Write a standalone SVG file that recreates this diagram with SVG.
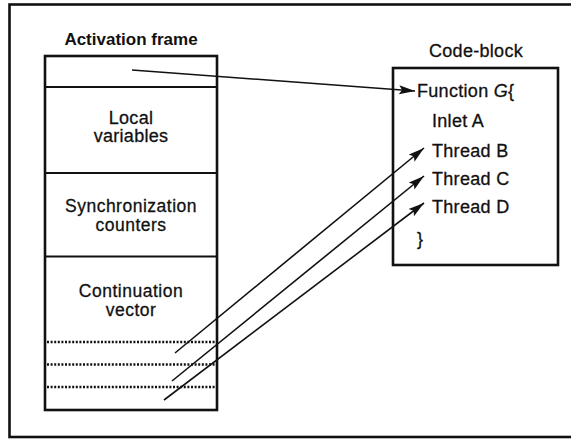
<svg xmlns="http://www.w3.org/2000/svg" width="571" height="439" viewBox="0 0 571 439">
<style>
  .t { font-family: "Liberation Sans", Arial, sans-serif; font-size: 18px; letter-spacing: 0.3px; fill: #111; stroke: #111; stroke-width: 0.3; }
  .c { text-anchor: middle; }
  .m { font-size: 17.5px; letter-spacing: 0.5px; }
  .title { font-weight: bold; font-size: 17px; letter-spacing: 0; stroke-width: 0; }
  .box { fill: #fff; stroke: #111; stroke-width: 2.6; }
  .div { stroke: #111; stroke-width: 2.2; }
  .dot { stroke: #111; stroke-width: 2.4; stroke-dasharray: 2 1.6; }
  .arr { stroke: #111; stroke-width: 1.6; fill: none; marker-end: url(#ah); }
</style>
<defs>
  <marker id="ah" markerUnits="userSpaceOnUse" markerWidth="18" markerHeight="11" refX="16" refY="5.5" orient="auto">
    <path d="M0,1 L16,5.5 L0,10 L3,5.5 Z" fill="#111"/>
  </marker>
</defs>
<rect x="0" y="0" width="571" height="439" fill="#fff"/>
<rect x="9.5" y="4.5" width="570" height="432.5" fill="none" stroke="#111" stroke-width="2.6"/>

<g id="activation-frame">
  <text class="t title c" x="131" y="45">Activation frame</text>
  <rect class="box" x="45" y="56" width="172" height="354"/>
  <line class="div" x1="45" y1="87" x2="217" y2="87"/>
  <line class="div" x1="45" y1="173" x2="217" y2="173"/>
  <line class="div" x1="45" y1="256.5" x2="217" y2="256.5"/>
  <text class="t c"><tspan x="131" y="124">Local</tspan><tspan x="131" y="142">variables</tspan></text>
  <text class="t m c"><tspan x="131" y="211.5">Synchronization</tspan><tspan x="131" y="230.5">counters</tspan></text>
  <text class="t m c"><tspan x="131" y="296.5">Continuation</tspan><tspan x="131" y="315.5">vector</tspan></text>
  <line class="dot" x1="47" y1="342" x2="216" y2="342"/>
  <line class="dot" x1="47" y1="364.5" x2="216" y2="364.5"/>
  <line class="dot" x1="47" y1="387" x2="216" y2="387"/>
</g>

<g id="code-block">
  <text class="t c" x="476" y="57">Code-block</text>
  <rect class="box" x="393" y="68" width="165" height="197"/>
  <text class="t" x="417" y="97">Function <tspan font-style="italic">G</tspan>{</text>
  <text class="t" x="432" y="127">Inlet A</text>
  <text class="t" x="432" y="157">Thread B</text>
  <text class="t" x="432" y="185">Thread C</text>
  <text class="t" x="432" y="213">Thread D</text>
  <text class="t" x="417" y="245">}</text>
</g>

<g id="connectors">
  <line class="arr" x1="132" y1="70" x2="415" y2="91"/>
  <line class="arr" x1="175" y1="353" x2="424" y2="148"/>
  <line class="arr" x1="172" y1="381" x2="424" y2="176"/>
  <line class="arr" x1="164" y1="400" x2="424" y2="203"/>
</g>
</svg>
